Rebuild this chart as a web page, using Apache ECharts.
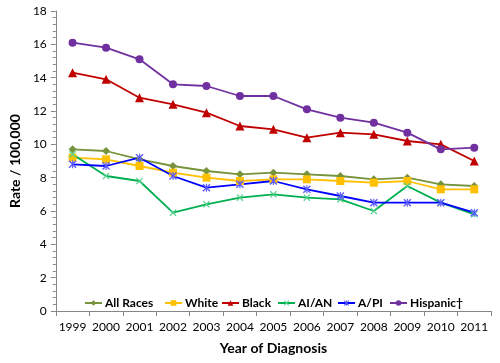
<!DOCTYPE html>
<html><head><meta charset="utf-8">
<script src="https://cdn.jsdelivr.net/npm/echarts@6/dist/echarts.min.js"></script>
<style>html,body{margin:0;padding:0;background:#fff}#c{width:500px;height:363px}</style>
</head><body><div id="c"></div>
<script>
const years = ['1999','2000','2001','2002','2003','2004','2005','2006','2007','2008','2009','2010','2011'];
const allRaces = [9.7, 9.6, 9.1, 8.7, 8.4, 8.2, 8.3, 8.2, 8.1, 7.9, 8.0, 7.6, 7.5];
const white    = [9.2, 9.1, 8.7, 8.3, 8.0, 7.8, 7.9, 7.9, 7.8, 7.7, 7.8, 7.3, 7.3];
const black    = [14.3, 13.9, 12.8, 12.4, 11.9, 11.1, 10.9, 10.4, 10.7, 10.6, 10.2, 10.0, 9.0];
const aian     = [9.4, 8.1, 7.8, 5.9, 6.4, 6.8, 7.0, 6.8, 6.7, 6.0, 7.5, 6.5, 5.8];
const api      = [8.8, 8.7, 9.2, 8.1, 7.4, 7.6, 7.8, 7.3, 6.9, 6.5, 6.5, 6.5, 5.9];
const hispanic = [16.1, 15.8, 15.1, 13.6, 13.5, 12.9, 12.9, 12.1, 11.6, 11.3, 10.7, 9.7, 9.8];
const seriesNames = ['All Races', 'White', 'Black', 'AI/AN', 'A/PI', 'Hispanic†'];
const yTicks = [0, 2, 4, 6, 8, 10, 12, 14, 16, 18];

const xSym = 'path://M1.2,0L5,3.8L8.8,0L10,1.2L6.2,5L10,8.8L8.8,10L5,6.2L1.2,10L0,8.8L3.8,5L0,1.2Z';
const starSym = 'path://M1.2,0L5,3.8L8.8,0L10,1.2L6.2,5L10,8.8L8.8,10L5,6.2L1.2,10L0,8.8L3.8,5L0,1.2Z M4.3,0L5.7,0L5.7,10L4.3,10Z';
const font = 'Lato, "Open Sans", sans-serif';
const legendLeft = [84, 164, 221, 277, 337, 389];

function mk(name, data, color, symbol, size, symColor) {
  return {
    name, type: 'line', data, symbol, symbolSize: size,
    lineStyle: { color, width: 1.8 },
    itemStyle: { color: symColor || color },
    emphasis: { disabled: true },
    animation: false
  };
}

const legends = seriesNames.map((n, i) => ({
  left: legendLeft[i], top: 297, itemWidth: 17, itemHeight: 7, padding: 0,
  textStyle: { fontFamily: font, fontWeight: 'bold', fontSize: 12, color: '#000', padding: [0, 0, 0, -2] },
  data: [n], selectedMode: false
}));

const chart = echarts.init(document.getElementById('c'), null, { renderer: 'canvas' });
chart.setOption({
  animation: false,
  grid: { left: 52, right: 9, top: 11, bottom: 52, containLabel: false },
  legend: legends,
  xAxis: {
    type: 'category', data: years, boundaryGap: true,
    name: 'Year of Diagnosis', nameLocation: 'middle', nameGap: 30,
    nameTextStyle: { fontFamily: font, fontWeight: 'bold', fontSize: 14, color: '#000' },
    axisLine: { lineStyle: { color: '#868686', width: 1 } },
    axisTick: { show: true, length: 5, lineStyle: { color: '#868686' } },
    axisLabel: { fontFamily: font, fontSize: 12, color: '#000', margin: 10, interval: 0 },
    splitLine: { show: false }
  },
  yAxis: {
    type: 'value', min: 0, max: 18, interval: 2,
    name: 'Rate / 100,000', nameLocation: 'middle', nameGap: 33,
    nameTextStyle: { fontFamily: font, fontWeight: 'bold', fontSize: 14, color: '#000' },
    axisLine: { show: true, lineStyle: { color: '#868686', width: 1 } },
    axisTick: { show: true, length: 5, lineStyle: { color: '#868686' } },
    minorTick: { show: true, splitNumber: 5, length: 3, lineStyle: { color: '#868686' } },
    axisLabel: { fontFamily: font, fontSize: 12, color: '#000', margin: 9,
      formatter: v => yTicks.includes(v) ? String(v) : '' },
    splitLine: { show: false }
  },
  series: [
    mk(seriesNames[0], allRaces, '#77933C', 'diamond', 8),
    mk(seriesNames[1], white, '#FFC000', 'rect', 8),
    mk(seriesNames[2], black, '#C00000', 'triangle', 9),
    mk(seriesNames[3], aian, '#00B050', xSym, 7, '#4FD08A'),
    mk(seriesNames[4], api, '#0000FF', starSym, 8, '#5A5AFF'),
    mk(seriesNames[5], hispanic, '#7030A0', 'circle', 8)
  ]
});
</script></body></html>
